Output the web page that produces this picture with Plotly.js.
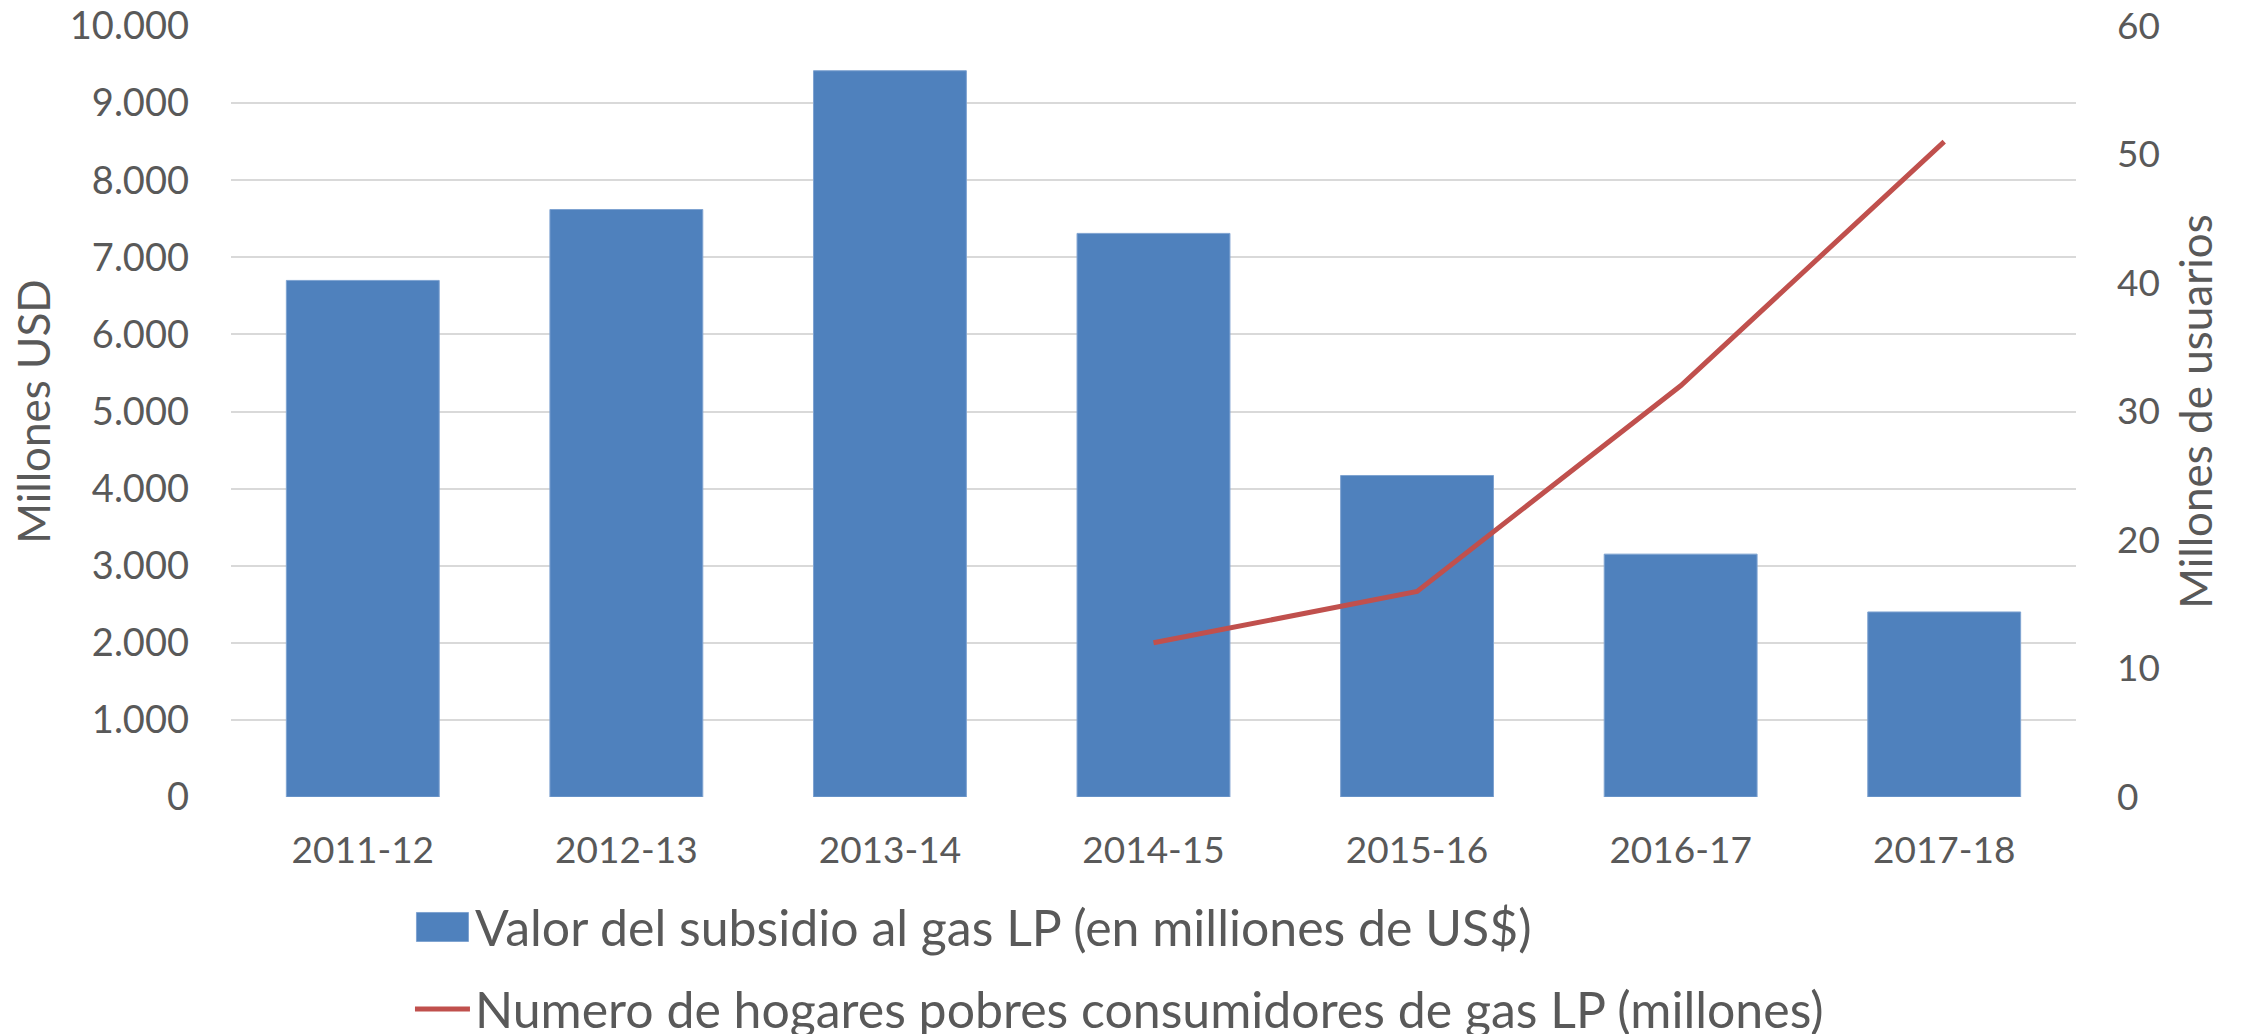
<!DOCTYPE html>
<html>
<head>
<meta charset="utf-8">
<script src="https://cdn.plot.ly/plotly-3.0.1.min.js"></script>
<style>
  html, body { margin: 0; padding: 0; background: #ffffff; }
  #chart { width: 2241px; height: 1034px; }
</style>
</head>
<body>
<div id="chart"></div>
<script>
// ---- Data ----
const categories = ["2011-12", "2012-13", "2013-14", "2014-15", "2015-16", "2016-17", "2017-18"];
const subsidyValues = [6700, 7620, 9420, 7310, 4170, 3150, 2400];          // Millones USD
const householdCategories = ["2014-15", "2015-16", "2016-17", "2017-18"];
const householdValues = [12, 16, 32, 51];                                   // Millones de usuarios
const barName = "Valor del subsidio al gas LP (en milliones de US$)";
const lineName = "Numero de hogares pobres consumidores de gas LP (millones)";
const leftAxisTitle = "Millones USD";
const rightAxisTitle = "Millones de usuarios";

const FONT = "Lato, 'Open Sans', sans-serif";
const TEXT = "#595959";

const traces = [
  {
    type: "bar",
    name: barName,
    x: categories,
    y: subsidyValues,
    marker: { color: "#4F81BD", line: { color: "#7FA3D1", width: 1 } },
    legendgroup: "g1",
    hoverinfo: "x+y"
  },
  {
    type: "scatter",
    mode: "lines",
    name: lineName,
    x: householdCategories,
    y: householdValues,
    yaxis: "y2",
    line: { color: "#C0504D", width: 5 },
    legendgroup: "g2",
    hoverinfo: "x+y"
  }
];

const layout = {
  width: 2241,
  height: 1034,
  margin: { l: 231, r: 165, t: 26, b: 237, autoexpand: false },
  paper_bgcolor: "#ffffff",
  plot_bgcolor: "#ffffff",
  separators: ",.",
  font: { family: FONT, color: TEXT, size: 37 },
  bargap: 0.42,
  showlegend: true,
  legend: {
    xref: "paper",
    yref: "paper",
    x: 0.097,
    xanchor: "left",
    y: -0.118,
    yanchor: "top",
    orientation: "v",
    traceorder: "grouped",
    tracegroupgap: 14,
    font: { family: FONT, size: 50, color: TEXT },
    bgcolor: "rgba(0,0,0,0)",
    itemwidth: 55
  },
  xaxis: {
    type: "category",
    categoryorder: "array",
    categoryarray: categories,
    showgrid: false,
    showline: false,
    zeroline: false,
    ticks: "",
    tickangle: 0,
    ticklabelstandoff: 28,
    tickfont: { family: FONT, size: 37, color: TEXT },
    automargin: false
  },
  yaxis: {
    range: [0, 10000],
    dtick: 1000,
    tick0: 0,
    tickformat: ",d",
    showgrid: true,
    gridcolor: "#D9D9D9",
    gridwidth: 2,
    zeroline: false,
    showline: false,
    ticks: "",
    ticklabelstandoff: 41,
    tickfont: { family: FONT, size: 38, color: TEXT },
    title: { text: leftAxisTitle, font: { family: FONT, size: 44, color: TEXT }, standoff: 5 },
    automargin: true,
    fixedrange: true
  },
  yaxis2: {
    overlaying: "y",
    side: "right",
    range: [0, 60],
    dtick: 10,
    tick0: 0,
    showgrid: false,
    zeroline: false,
    showline: false,
    ticks: "",
    ticklabelstandoff: 40,
    tickfont: { family: FONT, size: 37, color: TEXT },
    title: { text: rightAxisTitle, font: { family: FONT, size: 44, color: TEXT }, standoff: 22 },
    automargin: false,
    fixedrange: true
  }
};

function enlargeBarLegendSymbol() {
  const gd = document.getElementById("chart");
  const legendTraces = gd.querySelectorAll(".legend .traces");
  legendTraces.forEach(function (t) {
    const pts = t.querySelectorAll(".legendpoints path");
    pts.forEach(function (p) {
      const d = p.getAttribute("d") || "";
      if (/^M6,6H-6V-6H6Z$/.test(d.replace(/\s/g, ""))) {
        p.setAttribute("d", "M26,14.5H-26V-14.5H26Z");
      }
    });
  });
}

Plotly.newPlot("chart", traces, layout, { displayModeBar: false, staticPlot: true })
  .then(enlargeBarLegendSymbol);
</script>
</body>
</html>
